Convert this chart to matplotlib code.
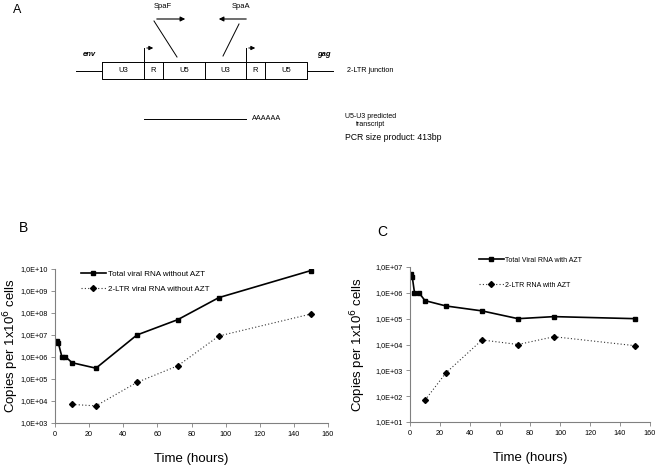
import numpy as np
import matplotlib
matplotlib.use('Agg')
import matplotlib.pyplot as plt
from matplotlib.ticker import FixedLocator, FuncFormatter

plt.rcParams['font.family'] = ['Liberation Sans', 'DejaVu Sans']

# panel B: without AZT
b_time_total = [1, 2, 4, 6, 10, 24, 48, 72, 96, 150]
b_total = [5.5e6, 4.2e6, 1.05e6, 1.05e6, 5.5e5, 3.1e5, 1.0e7, 5.0e7, 5.0e8, 8.5e9]
b_time_ltr = [10, 24, 48, 72, 96, 150]
b_ltr = [7.0e3, 6.0e3, 7.0e4, 4.0e5, 9.0e6, 9.0e7]

# panel C: with AZT
c_time_total = [1, 1.5, 3, 6, 10, 24, 48, 72, 96, 150]
c_total = [5.5e6, 4.2e6, 1.0e6, 1.0e6, 5.0e5, 3.1e5, 2.0e5, 1.0e5, 1.2e5, 1.0e5]
c_time_ltr = [10, 24, 48, 72, 96, 150]
c_ltr = [70, 800, 1.5e4, 1.0e4, 2.0e4, 9.0e3]

x_ticks = [0, 20, 40, 60, 80, 100, 120, 140, 160]


def sci_fmt(v, pos):
    return '1,0E+%02d' % int(round(np.log10(v)))


def style_axes(ax, ymin_exp, ymax_exp, ylab_x):
    ax.set_yscale('log')
    ax.set_xlim(0, 160)
    ax.set_ylim(10.0 ** ymin_exp, 10.0 ** ymax_exp)
    ax.yaxis.set_major_locator(FixedLocator([10.0 ** e for e in range(ymin_exp, ymax_exp + 1)]))
    ax.yaxis.set_major_formatter(FuncFormatter(sci_fmt))
    ax.yaxis.set_minor_locator(FixedLocator([]))
    ax.set_xticks(x_ticks)
    for s in ['top', 'right']:
        ax.spines[s].set_visible(False)
    for s in ['left', 'bottom']:
        ax.spines[s].set_color('#808080')
        ax.spines[s].set_linewidth(0.8)
    ax.tick_params(axis='both', labelsize=5.2, length=3, width=0.6, color='#808080',
                   direction='out', pad=2.5)
    ax.set_xlabel('Time (hours)', fontsize=9.5, labelpad=11)
    ax.set_ylabel('Copies per 1x10$^{6}$ cells', fontsize=9.5)
    ax.yaxis.set_label_coords(ylab_x, 0.5)


fig = plt.figure(figsize=(6.61, 4.67), dpi=100)

# ---------- panel A : diagram ----------
da = fig.add_axes([0, 0, 1, 1])
da.set_xlim(0, 661)
da.set_ylim(467, 0)
da.axis('off')

da.text(17, 10, 'A', fontsize=9, ha='center', va='center')

box_top, box_bot = 62, 79
edges = [102, 144, 163, 205, 246, 265, 307]
parts = ['U3', 'R', 'U5', 'U3', 'R', 'U5']
da.plot([edges[0], edges[-1], edges[-1], edges[0], edges[0]],
        [box_top, box_top, box_bot, box_bot, box_top], color='k', lw=0.7)
for e in edges[1:-1]:
    da.plot([e, e], [box_top, box_bot], color='k', lw=0.7)
for i, p in enumerate(parts):
    da.text((edges[i] + edges[i + 1]) / 2, 71, p, fontsize=5.5, ha='center', va='center')
da.plot([76, 102], [71, 71], color='k', lw=0.7)
da.plot([307, 333], [71, 71], color='k', lw=0.7)

# promoter arrows
for px in [144, 246]:
    da.plot([px, px], [box_top, 48], color='k', lw=0.7)
    da.annotate('', xy=(px + 12, 48), xytext=(px, 48),
                arrowprops=dict(arrowstyle='-|>', color='k', lw=0.7, mutation_scale=6))

# primers
da.annotate('', xy=(188, 19), xytext=(154, 19),
            arrowprops=dict(arrowstyle='-|>', color='k', lw=0.8, mutation_scale=7))
da.plot([154, 177], [21, 57], color='k', lw=0.7)
da.text(163, 7, 'SpaF', fontsize=5.5, ha='center', va='center')
da.annotate('', xy=(216, 19), xytext=(249, 19),
            arrowprops=dict(arrowstyle='-|>', color='k', lw=0.8, mutation_scale=7))
da.plot([239, 223], [24, 56], color='k', lw=0.7)
da.text(241, 7, 'SpaA', fontsize=5.5, ha='center', va='center')

da.text(89, 54, 'env', fontsize=5.5, style='italic', weight='bold', ha='center', va='center')
da.text(324, 54, 'gag', fontsize=5.5, style='italic', weight='bold', ha='center', va='center')
da.text(347, 71, '2-LTR junction', fontsize=5.2, ha='left', va='center')

da.plot([144, 246], [119, 119], color='k', lw=0.7)
da.text(252, 119, 'AAAAAA', fontsize=5.2, ha='left', va='center')
da.text(371, 120, 'U5-U3 predicted\ntranscript', fontsize=5, ha='center', va='center',
        linespacing=1.2)
da.text(345, 138, 'PCR size product: 413bp', fontsize=6.2, ha='left', va='center')

da.text(23, 228, 'B', fontsize=10, ha='center', va='center')
da.text(382, 232, 'C', fontsize=10, ha='center', va='center')

# ---------- panel B ----------
axb = fig.add_axes([55 / 661, 1 - 423 / 467, 273 / 661, 154 / 467])
axb.plot(b_time_total, b_total, color='black', lw=1.2, marker='s', ms=3.5,
         label='Total viral RNA without AZT')
axb.plot(b_time_ltr, b_ltr, color='#333333', lw=0.8, ls=(0, (1, 2)), marker='D', ms=3,
         markerfacecolor='black', markeredgecolor='black', label='2-LTR viral RNA without AZT')
style_axes(axb, 3, 10, -0.125)
axb.legend(loc='upper left', bbox_to_anchor=(0.07, 1.04), frameon=False, fontsize=5.8,
           handlelength=3.0, handletextpad=0.3, labelspacing=0.9)

# ---------- panel C ----------
axc = fig.add_axes([410 / 661, 1 - 422 / 467, 240 / 661, 155 / 467])
axc.plot(c_time_total, c_total, color='black', lw=1.2, marker='s', ms=3.5,
         label='Total Viral RNA with AZT')
axc.plot(c_time_ltr, c_ltr, color='#333333', lw=0.8, ls=(0, (1, 2)), marker='D', ms=3,
         markerfacecolor='black', markeredgecolor='black', label='2-LTR RNA with AZT')
style_axes(axc, 1, 7, -0.175)
axc.legend(loc='upper left', bbox_to_anchor=(0.26, 1.108), frameon=False, fontsize=5,
           handlelength=3.6, handletextpad=0.2, labelspacing=2.6)

fig.savefig('out.png', dpi=100)
